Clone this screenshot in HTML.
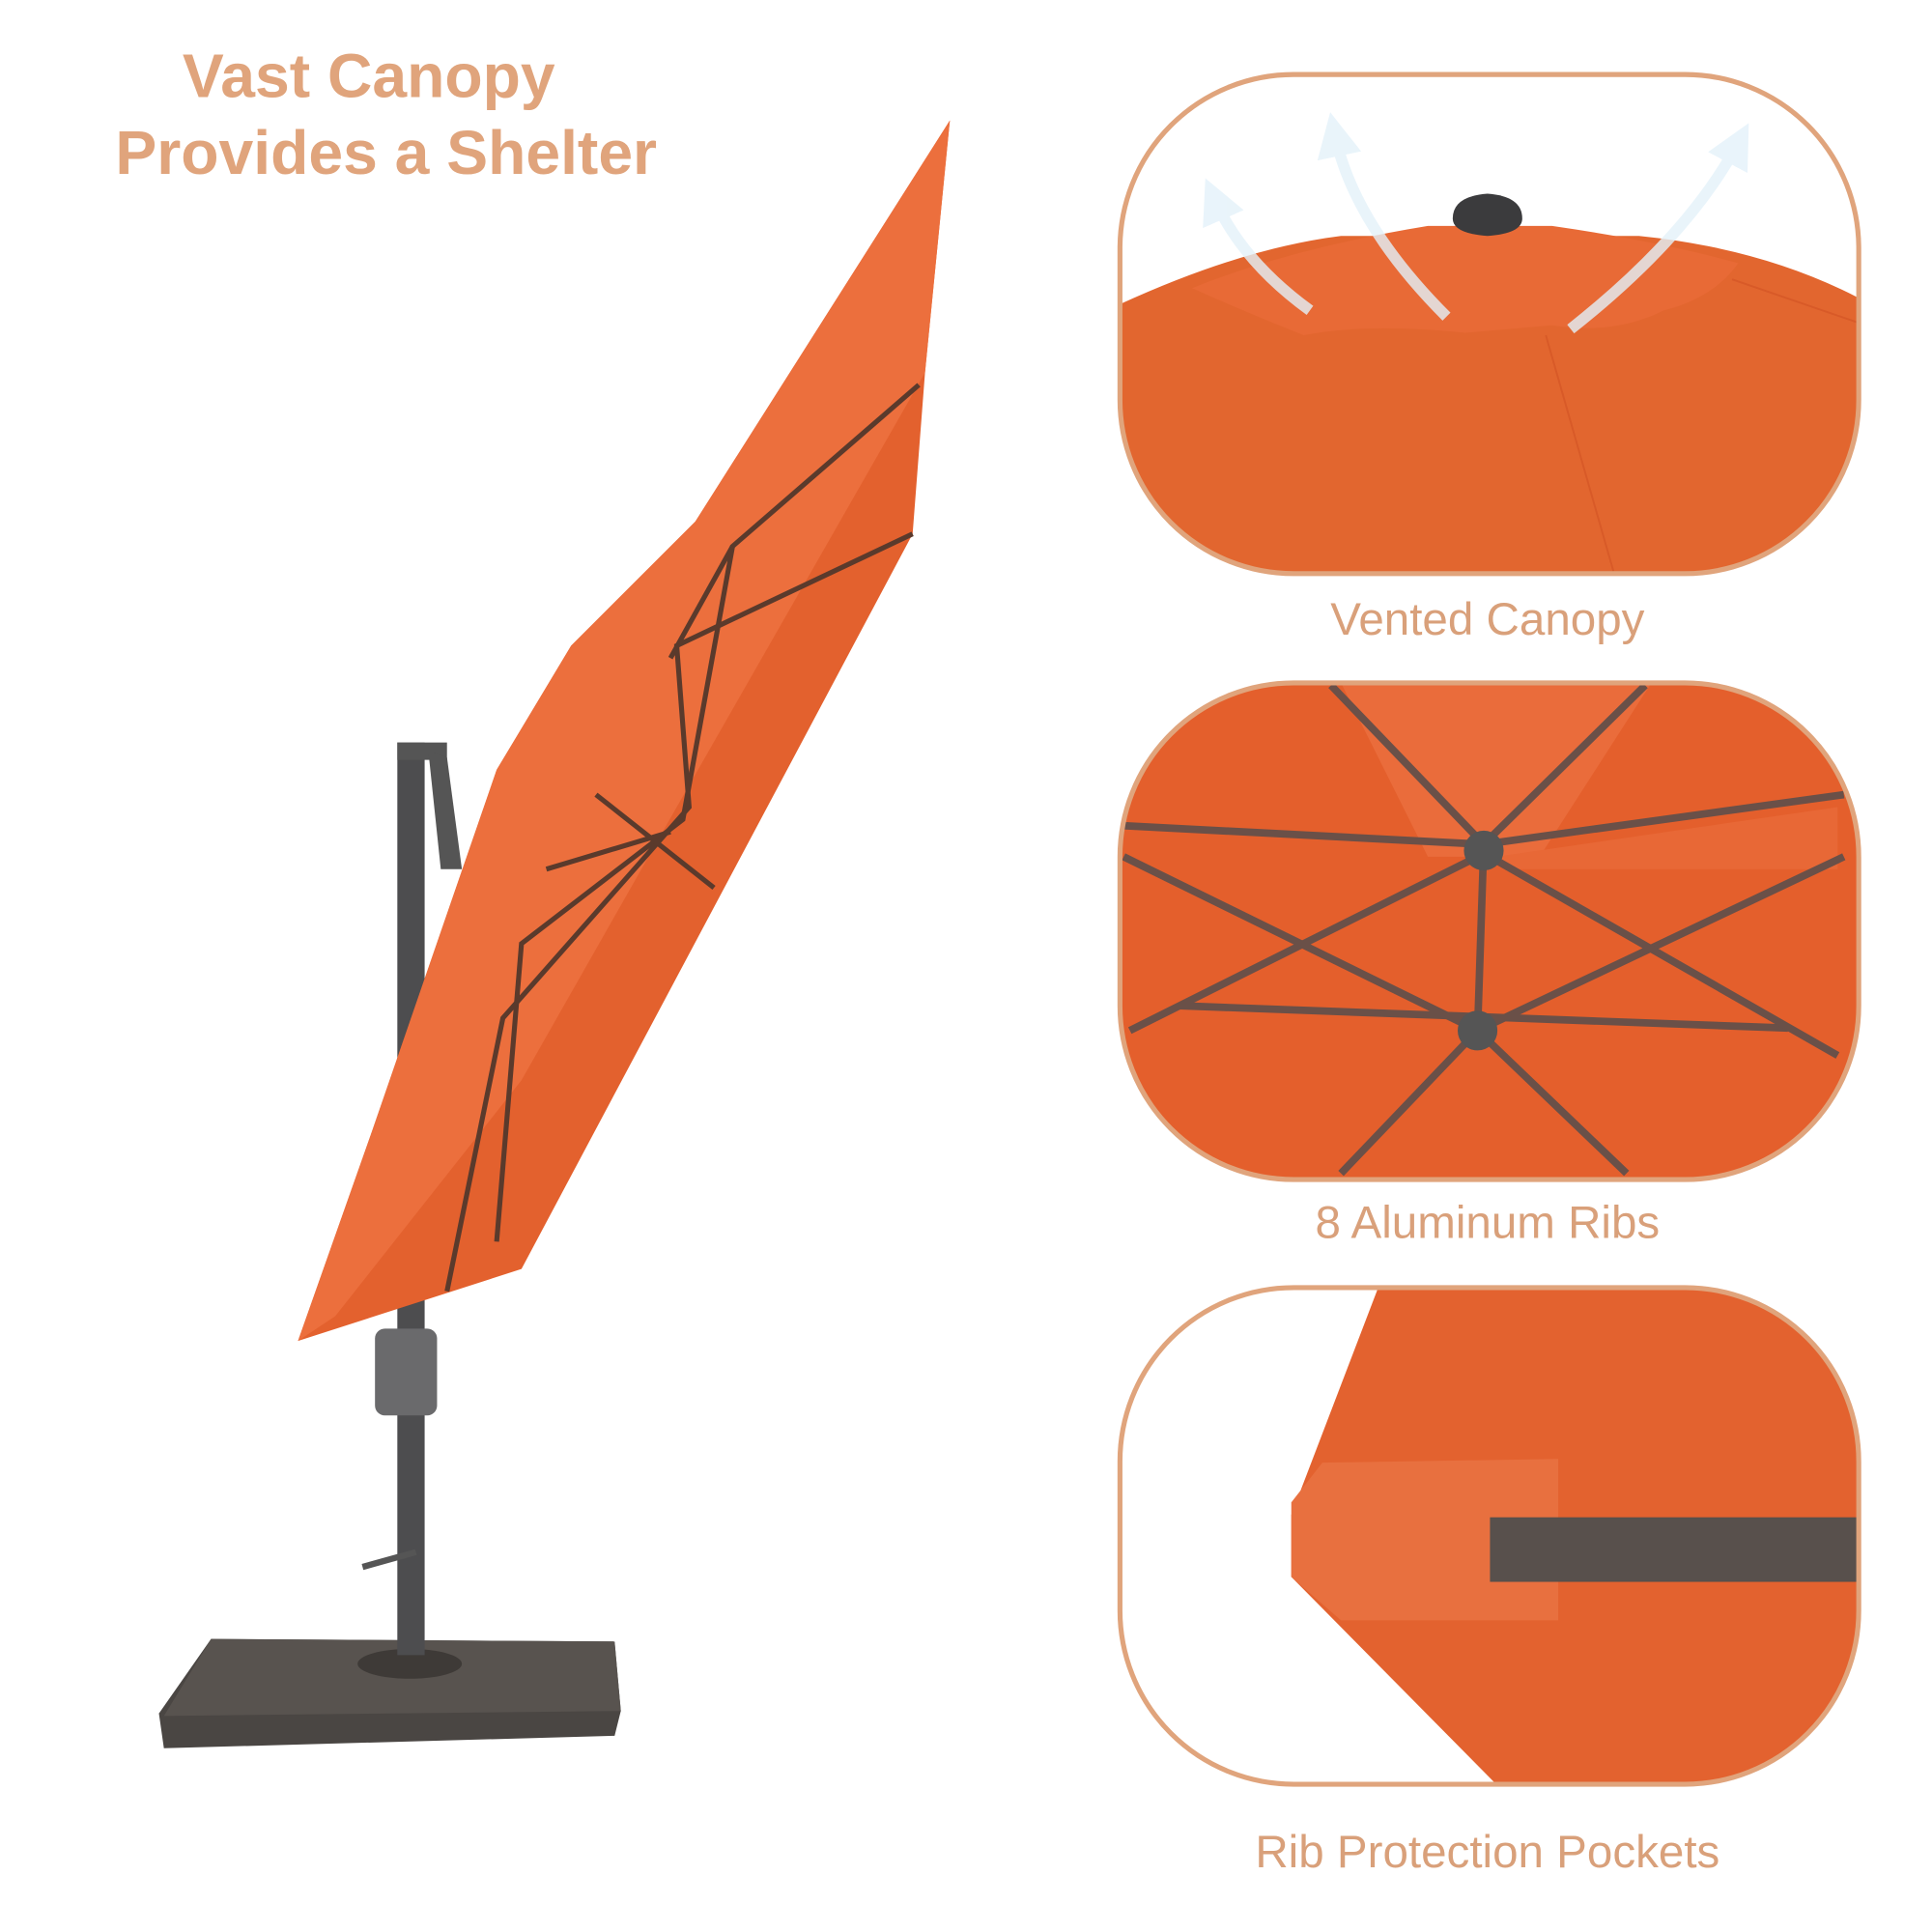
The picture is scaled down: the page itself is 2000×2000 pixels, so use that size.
<!DOCTYPE html>
<html><head><meta charset="utf-8"><style>
html,body{margin:0;padding:0;background:#fff;}
svg{display:block;}
text{font-family:"Liberation Sans",sans-serif;}
</style></head><body>
<svg width="2000" height="2000" viewBox="0 0 1556 1556" xmlns="http://www.w3.org/2000/svg">
<defs>
<clipPath id="c1"><rect x="902" y="60" width="595" height="402" rx="140"/></clipPath>
<clipPath id="c2"><rect x="902" y="550" width="595" height="400" rx="140"/></clipPath>
<clipPath id="c3"><rect x="902" y="1037" width="595" height="400" rx="140"/></clipPath>
<marker id="ah" viewBox="0 0 10 10" refX="5" refY="5" markerWidth="4" markerHeight="4" orient="auto"><path d="M0,0 L10,5 L0,10 Z" fill="#e4f2fa"/></marker>
</defs>
<rect width="1556" height="1556" fill="#fff"/>
<text x="297" y="78" font-size="50" font-weight="bold" fill="#e0a47c" text-anchor="middle">Vast Canopy</text>
<text x="311" y="140" font-size="50" font-weight="bold" fill="#e0a47c" text-anchor="middle">Provides a Shelter</text>

<!-- base -->
<polygon points="170,1320 495,1322 500,1378 495,1398 132,1408 128,1380" fill="#4a4643"/>
<polygon points="170,1320 495,1322 500,1378 132,1382" fill="#58534f"/>
<ellipse cx="330" cy="1340" rx="42" ry="12" fill="#3e3a37"/>
<!-- pole -->
<rect x="320" y="598" width="22" height="735" fill="#4d4d4f"/>
<rect x="320" y="598" width="40" height="14" fill="#555"/>
<polygon points="345,605 360,610 372,700 355,700" fill="#555"/>
<rect x="302" y="1070" width="50" height="70" rx="8" fill="#6a6a6c"/>
<line x1="292" y1="1262" x2="335" y2="1250" stroke="#555" stroke-width="5"/>

<!-- canopy -->
<polygon points="765,97 745,300 735,430 420,1022 240,1080 300,910 400,620 460,520 560,420" fill="#e3612e"/>
<polygon points="765,97 560,420 460,520 400,620 300,910 240,1080 270,1060 420,870 545,650 745,300" fill="#ec6f3d"/>
<g stroke="#5a3a2c" stroke-width="4" fill="none">
<polyline points="740,310 590,440 550,660 420,760 400,1000"/>
<polyline points="735,430 545,520 555,650 405,820 360,1040"/>
<line x1="590" y1="440" x2="540" y2="530"/>
<line x1="480" y1="640" x2="575" y2="715"/>
<line x1="440" y1="700" x2="540" y2="670"/>
</g>

<!-- panel 1 -->
<g clip-path="url(#c1)">
<rect x="902" y="60" width="595" height="402" fill="#fff"/>
<path d="M902,245 Q1000,200 1080,190 L1320,190 Q1420,200 1497,240 L1497,462 L902,462Z" fill="#e2662f"/>
<path d="M960,232 Q1040,200 1150,182 L1250,182 Q1340,195 1400,212 Q1380,240 1340,250 Q1300,270 1250,262 L1180,268 Q1100,260 1050,270 Q1000,250 960,232 Z" fill="#e86a36"/>
<line x1="1245" y1="270" x2="1300" y2="462" stroke="#d85a28" stroke-width="1.5"/>
<line x1="1395" y1="225" x2="1497" y2="260" stroke="#d85a28" stroke-width="1.5"/>
<path d="M1170,176 Q1170,158 1198,156 Q1226,158 1226,176 Q1226,188 1198,190 Q1170,188 1170,176Z" fill="#3b3b3d"/>
<g stroke="#e4f2fa" stroke-width="9" fill="none" opacity="0.8" marker-end="url(#ah)">
<path d="M1055,250 Q1000,210 978,160"/><path d="M1165,255 Q1090,180 1075,108"/>
<path d="M1265,265 Q1360,190 1400,115"/>
</g>
</g>
<rect x="902" y="60" width="595" height="402" rx="140" fill="none" stroke="#e0a47c" stroke-width="4"/>
<text x="1198" y="511" font-size="37" fill="#d9a07a" text-anchor="middle">Vented Canopy</text>

<!-- panel 2 -->
<g clip-path="url(#c2)">
<rect x="902" y="550" width="595" height="400" fill="#e45f2c"/>
<polygon points="1080,550 1330,550 1240,690 1150,690" fill="#ea6c3b"/>
<polygon points="1205,690 1480,650 1480,700 1220,700" fill="#e86836"/>
<g stroke="#6a5048" stroke-width="6">
<line x1="1072" y1="552" x2="1195" y2="680"/><line x1="1325" y1="552" x2="1195" y2="680"/>
<line x1="905" y1="665" x2="1195" y2="680"/><line x1="1485" y1="640" x2="1195" y2="680"/>
<line x1="905" y1="690" x2="1190" y2="830"/><line x1="1485" y1="690" x2="1190" y2="830"/>
<line x1="950" y1="810" x2="1440" y2="828"/><line x1="1195" y1="680" x2="1190" y2="830"/>
<line x1="1080" y1="945" x2="1190" y2="830"/><line x1="1310" y1="945" x2="1190" y2="830"/>
<line x1="910" y1="830" x2="1190" y2="690"/><line x1="1480" y1="850" x2="1200" y2="690"/>
</g>
<circle cx="1195" cy="685" r="16" fill="#555"/><circle cx="1190" cy="830" r="16" fill="#555"/>
</g>
<rect x="902" y="550" width="595" height="400" rx="140" fill="none" stroke="#e0a47c" stroke-width="4"/>
<text x="1198" y="997" font-size="37" fill="#d9a07a" text-anchor="middle">8 Aluminum Ribs</text>

<!-- panel 3 -->
<g clip-path="url(#c3)">
<rect x="902" y="1037" width="595" height="400" fill="#fff"/>
<polygon points="1110,1037 1497,1037 1497,1437 1205,1437 1040,1270 1040,1220" fill="#e3622f"/>
<polygon points="1040,1210 1065,1178 1255,1175 1255,1305 1080,1305 1040,1270" fill="#e8703f"/>
<rect x="1200" y="1222" width="297" height="52" fill="#58504c"/>
</g>
<rect x="902" y="1037" width="595" height="400" rx="140" fill="none" stroke="#e0a47c" stroke-width="4"/>
<text x="1198" y="1504" font-size="37" fill="#d9a07a" text-anchor="middle">Rib Protection Pockets</text>
</svg>
</body></html>
